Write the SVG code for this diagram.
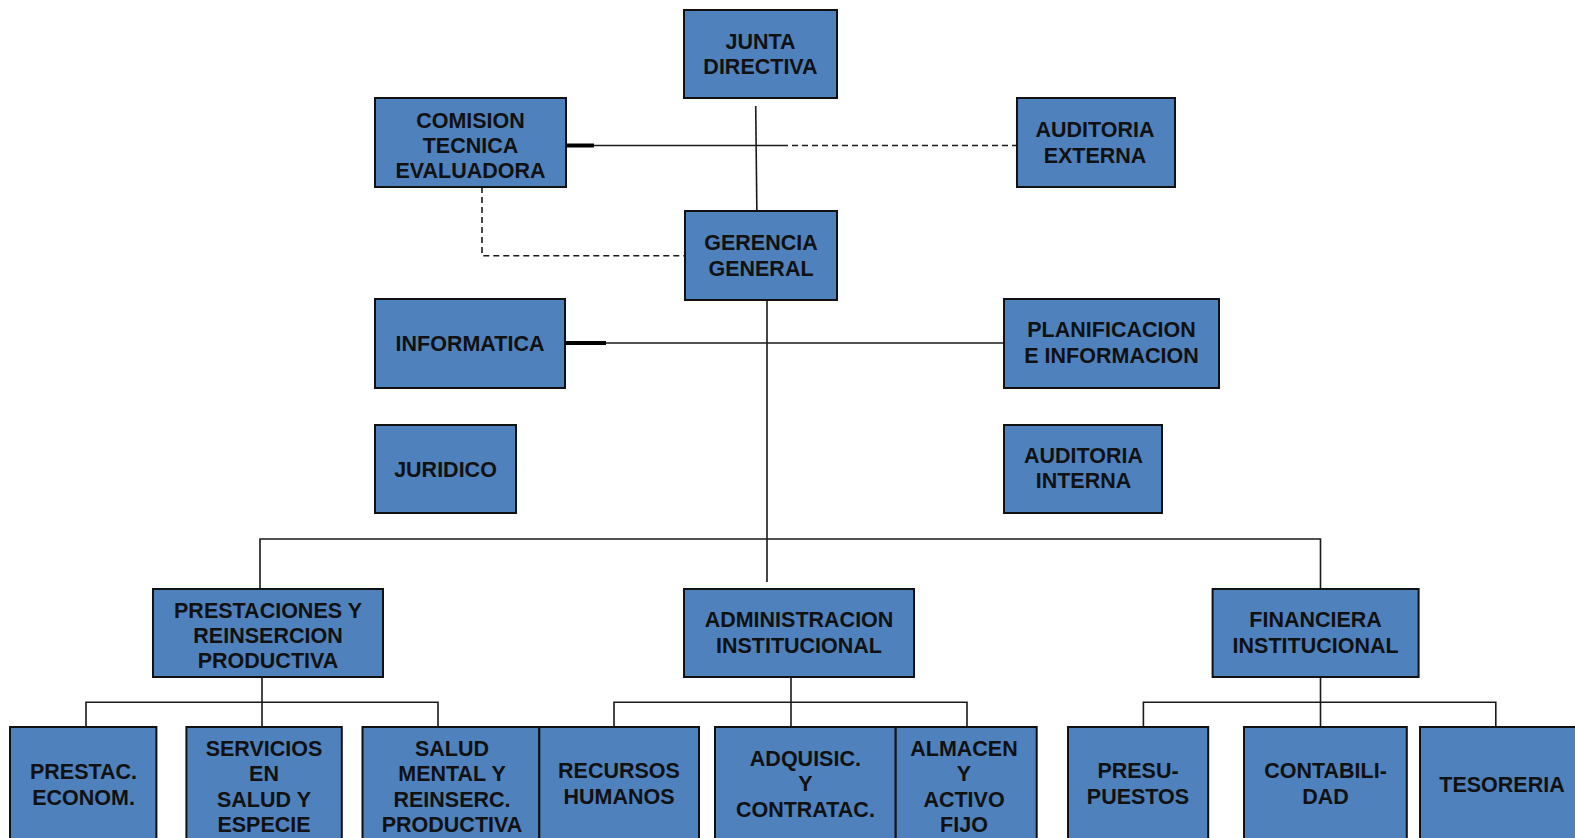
<svg xmlns="http://www.w3.org/2000/svg" width="1575" height="838" viewBox="0 0 1575 838">
  <style>
    .box { fill: #4F81BD; stroke: #111; stroke-width: 2; }
    .lbl { font-family: "Liberation Sans", Arial, sans-serif; font-weight: bold; font-size: 21.5px; fill: #111; text-anchor: middle; }
    .ln { fill: none; stroke: #1a1a1a; stroke-width: 1.6; }
    .thick { fill: none; stroke: #000; stroke-width: 4; }
    .dash { fill: none; stroke: #1a1a1a; stroke-width: 1.6; stroke-dasharray: 6 4; }
  </style>
  <rect width="1575" height="838" fill="#fff"/>

  <!-- connectors -->
  <g id="connectors">
    <!-- board to general management -->
    <path class="ln" d="M755.7 106 L757 224"/>
    <!-- commission / external audit line -->
    <path class="thick" d="M562 145.5 H594"/>
    <path class="ln" d="M594 145.5 H782"/>
    <path class="dash" d="M782 145.5 H1017"/>
    <!-- commission to general management (dashed) -->
    <path class="dash" d="M482 187 V255.7 H685"/>
    <!-- informatics / planning line -->
    <path class="thick" d="M562 343 H606"/>
    <path class="ln" d="M606 343 H1004"/>
    <!-- main trunk -->
    <path class="ln" d="M767 300 V582"/>
    <!-- division bus -->
    <path class="ln" d="M260 589 V539 H1320.5 V589"/>
    <!-- prestaciones sub-bus -->
    <path class="ln" d="M262 677 V702.3 M86 727 V702.3 H438 V727 M262 702.3 V727"/>
    <!-- administracion sub-bus -->
    <path class="ln" d="M791 677 V727 M614 727 V702.3 H967 V727"/>
    <!-- financiera sub-bus -->
    <path class="ln" d="M1320.5 677 V727 M1143.4 727 V702.3 H1495.8 V727"/>
  </g>

  <g id="junta">
    <rect class="box" x="684" y="10" width="153" height="88"/>
    <text class="lbl" x="760.5" y="49.3">JUNTA</text>
    <text class="lbl" x="760.5" y="74">DIRECTIVA</text>
  </g>

  <g id="comision">
    <rect class="box" x="375" y="98" width="191" height="89"/>
    <text class="lbl" x="470.5" y="127.7">COMISION</text>
    <text class="lbl" x="470.5" y="152.7">TECNICA</text>
    <text class="lbl" x="470.5" y="178.3">EVALUADORA</text>
  </g>

  <g id="auditoria-externa">
    <rect class="box" x="1017" y="98" width="158" height="89"/>
    <text class="lbl" x="1095" y="136.7">AUDITORIA</text>
    <text class="lbl" x="1095" y="162.7">EXTERNA</text>
  </g>

  <g id="gerencia">
    <rect class="box" x="685" y="211" width="152" height="89"/>
    <text class="lbl" x="761" y="250">GERENCIA</text>
    <text class="lbl" x="761" y="276">GENERAL</text>
  </g>

  <g id="informatica">
    <rect class="box" x="375" y="299" width="190" height="89"/>
    <text class="lbl" x="470" y="351">INFORMATICA</text>
  </g>

  <g id="planificacion">
    <rect class="box" x="1004" y="299" width="215" height="89"/>
    <text class="lbl" x="1111.5" y="337.3">PLANIFICACION</text>
    <text class="lbl" x="1111.5" y="363.3">E INFORMACION</text>
  </g>

  <g id="juridico">
    <rect class="box" x="375" y="425" width="141" height="88"/>
    <text class="lbl" x="445.5" y="476.7">JURIDICO</text>
  </g>

  <g id="auditoria-interna">
    <rect class="box" x="1004" y="425" width="158" height="88"/>
    <text class="lbl" x="1083.5" y="462.7">AUDITORIA</text>
    <text class="lbl" x="1083.5" y="488.3">INTERNA</text>
  </g>

  <g id="prestaciones">
    <rect class="box" x="153" y="589" width="230" height="88"/>
    <text class="lbl" x="268" y="617.7">PRESTACIONES Y</text>
    <text class="lbl" x="268" y="643.3">REINSERCION</text>
    <text class="lbl" x="268" y="667.7">PRODUCTIVA</text>
  </g>

  <g id="administracion">
    <rect class="box" x="684" y="589" width="230" height="88"/>
    <text class="lbl" x="799" y="627.3">ADMINISTRACION</text>
    <text class="lbl" x="799" y="653.3">INSTITUCIONAL</text>
  </g>

  <g id="financiera">
    <rect class="box" x="1212.6" y="589" width="206" height="88"/>
    <text class="lbl" x="1315.6" y="627.3">FINANCIERA</text>
    <text class="lbl" x="1315.6" y="653.3">INSTITUCIONAL</text>
  </g>

  <g id="prestac-econom">
    <rect class="box" x="10" y="727" width="146.4" height="130"/>
    <text class="lbl" x="83.5" y="779">PRESTAC.</text>
    <text class="lbl" x="83.5" y="805">ECONOM.</text>
  </g>

  <g id="servicios">
    <rect class="box" x="186.4" y="727" width="155.4" height="130"/>
    <text class="lbl" x="264" y="755.7">SERVICIOS</text>
    <text class="lbl" x="264" y="781">EN</text>
    <text class="lbl" x="264" y="806.7">SALUD Y</text>
    <text class="lbl" x="264" y="831.7">ESPECIE</text>
  </g>

  <g id="salud-mental">
    <rect class="box" x="362.5" y="727" width="176.8" height="130"/>
    <text class="lbl" x="452" y="755.7">SALUD</text>
    <text class="lbl" x="452" y="781">MENTAL Y</text>
    <text class="lbl" x="452" y="806.7">REINSERC.</text>
    <text class="lbl" x="452" y="831.7">PRODUCTIVA</text>
  </g>

  <g id="recursos-humanos">
    <rect class="box" x="539.3" y="727" width="159.7" height="130"/>
    <text class="lbl" x="619" y="778.3">RECURSOS</text>
    <text class="lbl" x="619" y="804">HUMANOS</text>
  </g>

  <g id="adquisiciones">
    <rect class="box" x="715" y="727" width="180.7" height="130"/>
    <text class="lbl" x="805.4" y="765.7">ADQUISIC.</text>
    <text class="lbl" x="805.4" y="790.7">Y</text>
    <text class="lbl" x="805.4" y="816.7">CONTRATAC.</text>
  </g>

  <g id="almacen">
    <rect class="box" x="895.7" y="727" width="141" height="130"/>
    <text class="lbl" x="964" y="755.7">ALMACEN</text>
    <text class="lbl" x="964" y="781">Y</text>
    <text class="lbl" x="964" y="806.7">ACTIVO</text>
    <text class="lbl" x="964" y="831.7">FIJO</text>
  </g>

  <g id="presupuestos">
    <rect class="box" x="1068" y="727" width="140.2" height="130"/>
    <text class="lbl" x="1138" y="778.3">PRESU-</text>
    <text class="lbl" x="1138" y="804">PUESTOS</text>
  </g>

  <g id="contabilidad">
    <rect class="box" x="1244" y="727" width="162.8" height="130"/>
    <text class="lbl" x="1325.5" y="778.3">CONTABILI-</text>
    <text class="lbl" x="1325.5" y="804">DAD</text>
  </g>

  <g id="tesoreria">
    <rect class="box" x="1420" y="727" width="164" height="130"/>
    <text class="lbl" x="1502" y="791.7">TESORERIA</text>
  </g>
</svg>
